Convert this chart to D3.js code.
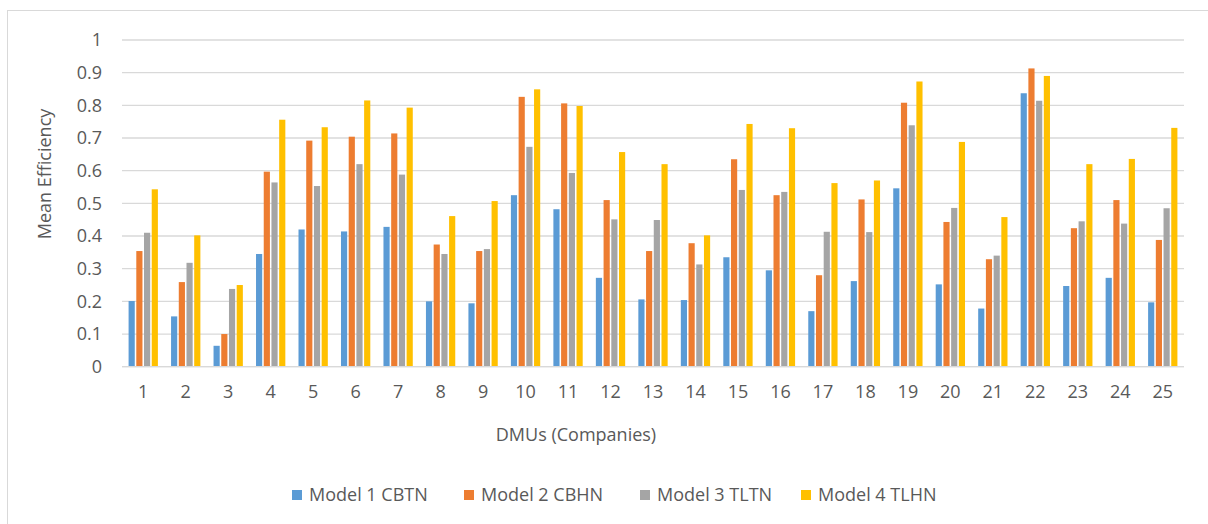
<!DOCTYPE html>
<html><head><meta charset="utf-8">
<script src="https://cdn.jsdelivr.net/npm/d3@7"></script>
<style>body{margin:0;background:#fff}svg{display:block}text{font-family:"Open Sans","Noto Sans",sans-serif;fill:#595959}</style>
</head><body><svg id="c" width="1208" height="524"></svg>
<script>
const categories = d3.range(1,26).map(String);
const seriesNames = ["Model 1 CBTN","Model 2 CBHN","Model 3 TLTN","Model 4 TLHN"];
const model1 = [0.201,0.154,0.064,0.345,0.420,0.414,0.428,0.200,0.194,0.525,0.482,0.272,0.206,0.204,0.335,0.295,0.170,0.262,0.546,0.252,0.178,0.837,0.247,0.272,0.197];
const model2 = [0.354,0.259,0.100,0.597,0.692,0.704,0.714,0.374,0.354,0.826,0.806,0.510,0.354,0.378,0.635,0.525,0.280,0.512,0.808,0.443,0.329,0.913,0.424,0.510,0.388];
const model3 = [0.410,0.318,0.238,0.564,0.553,0.620,0.588,0.345,0.360,0.673,0.593,0.451,0.449,0.313,0.541,0.535,0.413,0.412,0.739,0.486,0.340,0.814,0.445,0.438,0.485];
const model4 = [0.543,0.402,0.250,0.756,0.733,0.815,0.793,0.461,0.507,0.849,0.798,0.657,0.620,0.402,0.743,0.730,0.562,0.570,0.873,0.688,0.458,0.890,0.620,0.636,0.731];
const yTicks = [0,0.1,0.2,0.3,0.4,0.5,0.6,0.7,0.8,0.9,1];
const yTickLabels = ["0","0.1","0.2","0.3","0.4","0.5","0.6","0.7","0.8","0.9","1"];
const colors = ["#5b9bd5","#ed7d31","#a5a5a5","#ffc000"];
const series = [model1,model2,model3,model4];

const svg = d3.select("#c");
svg.append("rect").attr("x",7.5).attr("y",10.5).attr("width",1210).attr("height",520)
  .attr("fill","#fff").attr("stroke","#d9d9d9").attr("stroke-width",1);

const L=122, R=1184, T=40, B=366.7;
const x = d3.scaleBand().domain(categories).range([L,R]).paddingInner(0.31).paddingOuter(0.155);
const xs = d3.scaleBand().domain(d3.range(4)).range([0,x.bandwidth()]).paddingInner(0.2);
const y = d3.scaleLinear().domain([0,1]).range([B,T]);

const g = svg.append("g");
g.selectAll("line.grid").data(yTicks).join("line")
  .attr("x1",L).attr("x2",R).attr("y1",d=>y(d)).attr("y2",d=>y(d))
  .attr("stroke","#d9d9d9").attr("stroke-width",1.3);

const yAxis = d3.axisLeft(y).tickValues(yTicks).tickFormat((d,i)=>yTickLabels[i]).tickSize(0).tickPadding(20);
const ya = g.append("g").attr("transform",`translate(${L},0)`).call(yAxis);
ya.select(".domain").remove();
ya.selectAll("text").style("font-size","18px").style("fill","#595959").style("font-family","'Open Sans'");

series.forEach((vals,si)=>{
  g.append("g").selectAll("rect").data(vals).join("rect")
    .attr("x",(d,i)=>x(categories[i])+xs(si))
    .attr("width",xs.bandwidth())
    .attr("y",d=>y(d)).attr("height",d=>B-y(d))
    .attr("fill",colors[si]);
});

const xAxis = d3.axisBottom(x).tickSize(0).tickPadding(19);
const xa = g.append("g").attr("transform",`translate(0,${B})`).call(xAxis);
xa.select(".domain").remove();
xa.selectAll("text").style("font-size","18px").style("fill","#595959").style("font-family","'Open Sans'");
g.append("line").attr("x1",L).attr("x2",R).attr("y1",B).attr("y2",B).attr("stroke","#d9d9d9").attr("stroke-width",1.3);

svg.append("text").attr("x",576).attr("y",441).attr("text-anchor","middle")
  .style("font-size","18px").text("DMUs (Companies)");
svg.append("text").attr("transform","translate(51,174) rotate(-90)").attr("text-anchor","middle")
  .style("font-size","18px").text("Mean Efficiency");

const legX = [292,464,640,801];
const lg = svg.append("g");
seriesNames.forEach((n,i)=>{
  lg.append("rect").attr("x",legX[i]).attr("y",490).attr("width",10).attr("height",10).attr("fill",colors[i]);
  lg.append("text").attr("x",legX[i]+17).attr("y",501).style("font-size","18px").text(n);
});
</script></body></html>
